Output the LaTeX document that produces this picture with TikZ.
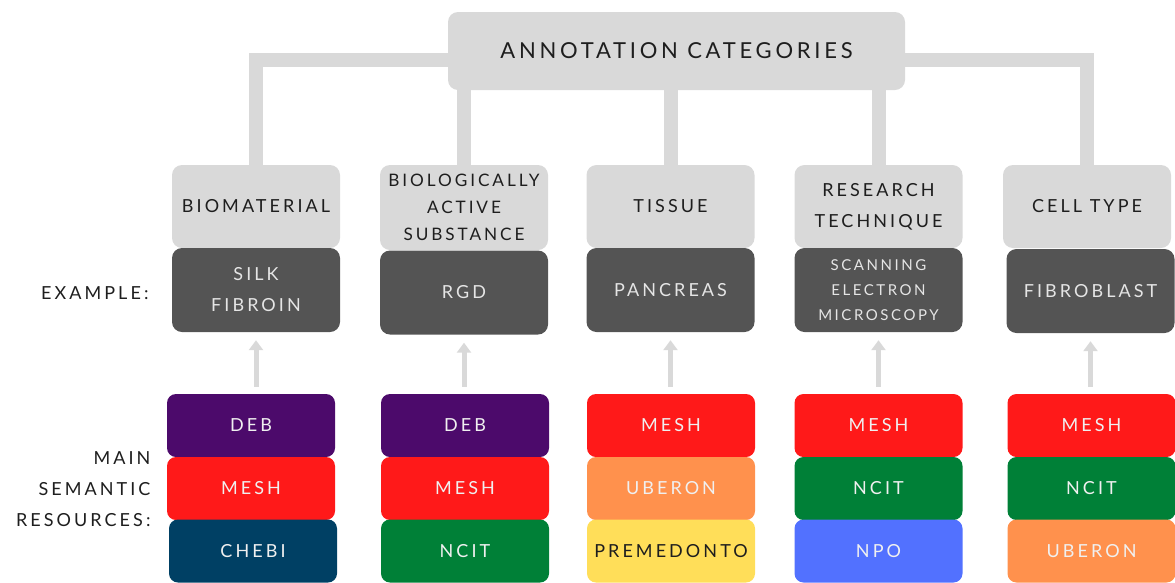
\documentclass[tikz,border=0pt]{standalone}
\usepackage{fontspec}
\setmainfont{Lato}
\usetikzlibrary{arrows.meta,backgrounds}
\definecolor{boxgray}{HTML}{D9D9D9}
\definecolor{exgray}{HTML}{545454}
\definecolor{debpurple}{HTML}{4C0A6B}
\definecolor{meshred}{HTML}{FF1919}
\definecolor{chebiblue}{HTML}{004064}
\definecolor{ncitgreen}{HTML}{008037}
\definecolor{uberonorange}{HTML}{FF914D}
\definecolor{premyellow}{HTML}{FFDE59}
\definecolor{npoblue}{HTML}{5271FF}
\definecolor{inkdark}{HTML}{1E1E1E}
\newcommand{\spacedfont}[2]{\fontsize{#1}{#2}\selectfont\addfontfeatures{LetterSpace=17}}
\begin{document}
\begin{tikzpicture}[x=1pt,y=-1pt,
    catbox/.style={fill=boxgray,rounded corners=10pt,minimum width=168pt,minimum height=83pt,
      align=center,text=inkdark,font=\spacedfont{18}{27}},
    exbox/.style={fill=exgray,rounded corners=10pt,minimum width=168pt,minimum height=84pt,
      align=center,text=white!90!black,font=\spacedfont{18}{31}},
    resbox/.style={rounded corners=9pt,minimum width=168pt,minimum height=63pt,
      text=white!94!black,font=\spacedfont{18}{27}},
    sidelabel/.style={anchor=east,align=right,text=inkdark,font=\spacedfont{18}{31}},
    link/.style={draw=boxgray,line width=14pt},
    uparrow/.style={draw=boxgray,line width=5pt,-{Triangle[width=14pt,length=10pt]},
      shorten <=7pt,shorten >=8pt}]
  \useasboundingbox (0,0) rectangle (1175,582);
  % header
  \node[fill=boxgray,rounded corners=10pt,minimum width=457pt,minimum height=78pt,
    text=inkdark,font=\spacedfont{22}{27}] (top) at (676.5,51) {ANNOTATION CATEGORIES};
  % categories
  \node[catbox] (bio) at (256,206.5) {BIOMATERIAL};
  \node[catbox,minimum height=85pt,font=\spacedfont{17.2}{27}] (act) at (464,207.5) {BIOLOGICALLY\\ACTIVE\\SUBSTANCE};
  \node[catbox] (tis) at (670.5,206.5) {TISSUE};
  \node[catbox,font=\spacedfont{18}{31}] (tech) at (878.5,206.5) {RESEARCH\\TECHNIQUE};
  \node[catbox] (cell) at (1087,206.5) {CELL TYPE};
  \begin{scope}[on background layer]
    \draw[link] ([yshift=-9pt]top.center) -| (bio.north);
    \draw[link] ([yshift=-9pt]top.center) -| (cell.north);
    \draw[link] (top.center -| act.north) -- (act.north);
    \draw[link] (top.center -| tis.north) -- (tis.north);
    \draw[link] (top.center -| tech.north) -- (tech.north);
  \end{scope}
  % examples
  \node[sidelabel] (exlabel) at (152,293) {EXAMPLE:};
  \node[exbox] (ex1) at (256,290) {SILK\\FIBROIN};
  \node[exbox] (ex2) at (464,292.5) {RGD};
  \node[exbox] (ex3) at (670.5,290) {PANCREAS};
  \node[exbox,font=\spacedfont{15}{25}] (ex4) at (878.5,290) {SCANNING\\ELECTRON\\MICROSCOPY};
  \node[exbox] (ex5) at (1090.5,291) {FIBROBLAST};
  % semantic resources
  \node[sidelabel] (reslabel) at (154,489) {MAIN\\SEMANTIC\\RESOURCES:};
  \node[resbox,fill=debpurple] (deb1) at (251,425.5) {DEB};
  \node[resbox,fill=meshred] (mesh1) at (251,488.5) {MESH};
  \node[resbox,fill=chebiblue] (chebi1) at (253,551) {CHEBI};
  \node[resbox,fill=debpurple] (deb2) at (465,425.5) {DEB};
  \node[resbox,fill=meshred] (mesh2) at (465,488.5) {MESH};
  \node[resbox,fill=ncitgreen] (ncit2) at (465,551) {NCIT};
  \node[resbox,fill=meshred] (mesh3) at (671,425.5) {MESH};
  \node[resbox,fill=uberonorange] (uberon3) at (671,488.5) {UBERON};
  \node[resbox,fill=premyellow,text=inkdark] (premed3) at (671,551) {PREMEDONTO};
  \node[resbox,fill=meshred] (mesh4) at (878.5,425.5) {MESH};
  \node[resbox,fill=ncitgreen] (ncit4) at (878.5,488.5) {NCIT};
  \node[resbox,fill=npoblue] (npo4) at (878.5,551) {NPO};
  \node[resbox,fill=meshred] (mesh5) at (1091.5,425.5) {MESH};
  \node[resbox,fill=ncitgreen] (ncit5) at (1091.5,488.5) {NCIT};
  \node[resbox,fill=uberonorange] (uberon5) at (1091.5,551) {UBERON};
  % arrows
  \draw[uparrow] (ex1.south |- deb1.north) -- (ex1.south);
  \draw[uparrow] (ex2.south |- deb2.north) -- (ex2.south);
  \draw[uparrow] (ex3.south |- mesh3.north) -- (ex3.south);
  \draw[uparrow] (ex4.south |- mesh4.north) -- (ex4.south);
  \draw[uparrow] (ex5.south |- mesh5.north) -- (ex5.south);
\end{tikzpicture}
\end{document}
